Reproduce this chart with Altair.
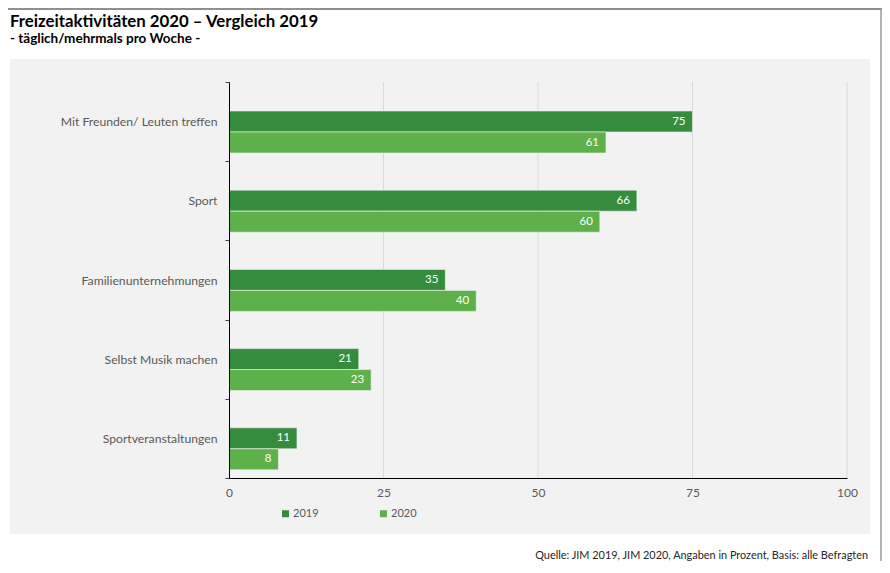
import altair as alt
import pandas as pd

# ---- data ----
categories = [
    "Mit Freunden/ Leuten treffen",
    "Sport",
    "Familienunternehmungen",
    "Selbst Musik machen",
    "Sportveranstaltungen",
]
years = ["2019", "2020"]
values_2019 = [75, 66, 35, 21, 11]
values_2020 = [61, 60, 40, 23, 8]
x_ticks = [0, 25, 50, 75, 100]
grid_values = [25, 50, 75, 100]
colors = ["#358C3C", "#5EB14A"]

title_text = "Freizeitaktivitäten 2020 – Vergleich 2019"
subtitle_text = "- täglich/mehrmals pro Woche -"
source_text = "Quelle: JIM 2019, JIM 2020, Angaben in Prozent, Basis: alle Befragten"

rows = []
for c, a, b in zip(categories, values_2019, values_2020):
    rows.append({"kategorie": c, "jahr": years[0], "wert": a})
    rows.append({"kategorie": c, "jahr": years[1], "wert": b})
df = pd.DataFrame(rows)

W, H = 618, 396
FONT = "Lato"
GRAY = "#595959"
one = pd.DataFrame({"d": [0]})

x_enc = alt.X(
    "wert:Q",
    scale=alt.Scale(domain=[0, 100]),
    axis=alt.Axis(
        values=x_ticks, title=None, grid=False, ticks=False,
        domainColor="black", domainWidth=1,
        labelColor=GRAY, labelFont=FONT, labelFontSize=12,
        labelPadding=9, labelFlush=False, zindex=1,
    ),
)
y_enc = alt.Y(
    "kategorie:N",
    sort=categories,
    scale=alt.Scale(paddingInner=0, paddingOuter=0),
    axis=alt.Axis(
        title=None, tickBand="extent", tickSize=4, tickColor="#404040",
        domainColor="black", domainWidth=1,
        labelColor=GRAY, labelFont=FONT, labelFontSize=12.2,
        labelPadding=8, labelLimit=400, zindex=1,
    ),
)
yoff_enc = alt.YOffset(
    "jahr:N", sort=years,
    scale=alt.Scale(range=[29, 71], paddingInner=0, paddingOuter=0),
)

panel = alt.Chart(one).mark_rect(color="#F2F2F2").encode(
    x=alt.value(-219), x2=alt.value(641), y=alt.value(-23), y2=alt.value(452)
)
top_border = alt.Chart(one).mark_rule(color="#6B6B6B", strokeWidth=1.5).encode(
    x=alt.value(-221), x2=alt.value(653), y=alt.value(-73)
)
right_border = alt.Chart(one).mark_rule(color="#9A9A9A", strokeWidth=1.5).encode(
    x=alt.value(652), y=alt.value(-74), y2=alt.value(479)
)
grid = alt.Chart(pd.DataFrame({"wert": grid_values})).mark_rule(
    color="#D9D9D9", strokeWidth=1
).encode(x=x_enc, y=alt.value(0), y2=alt.value(H))

bars = alt.Chart(df).mark_bar(stroke="#F2F2F2", strokeWidth=0.6).encode(
    x=x_enc,
    y=y_enc,
    yOffset=yoff_enc,
    color=alt.Color(
        "jahr:N",
        scale=alt.Scale(domain=years, range=colors),
        legend=alt.Legend(
            title=None, orient="none", legendX=51, legendY=426,
            direction="horizontal", symbolType="square", symbolSize=49,
            symbolStrokeWidth=0, labelFont=FONT, labelFontSize=11,
            labelColor=GRAY, columnPadding=59, labelOffset=2, padding=0,
        ),
    ),
)
labels = alt.Chart(df).mark_text(
    align="right", baseline="middle", dx=-7, color="white",
    font=FONT, fontSize=11.5,
).encode(x=x_enc, y=y_enc, yOffset=yoff_enc, text="wert:Q")

title = alt.Chart(pd.DataFrame({"t": [title_text]})).mark_text(
    align="left", baseline="alphabetic", font=FONT, fontWeight="bold",
    fontSize=16.8, color="black",
).encode(x=alt.value(-219), y=alt.value(-55), text="t:N")
subtitle = alt.Chart(pd.DataFrame({"t": [subtitle_text]})).mark_text(
    align="left", baseline="alphabetic", font=FONT, fontWeight="bold",
    fontSize=13.5, color="black",
).encode(x=alt.value(-219), y=alt.value(-39), text="t:N")
source = alt.Chart(pd.DataFrame({"t": [source_text]})).mark_text(
    align="right", baseline="alphabetic", font=FONT,
    fontSize=10.9, color="#262626",
).encode(x=alt.value(639), y=alt.value(477), text="t:N")

chart = alt.layer(
    panel, top_border, right_border, grid, bars, labels, title, subtitle, source
).properties(
    width=W, height=H,
    autosize=alt.AutoSizeParams(type="none"),
    padding={"left": 221, "top": 74, "right": 35, "bottom": 83},
    background="white",
).configure_view(stroke=None)

chart.save("out.html", embed_options={"renderer": "svg", "actions": False})
